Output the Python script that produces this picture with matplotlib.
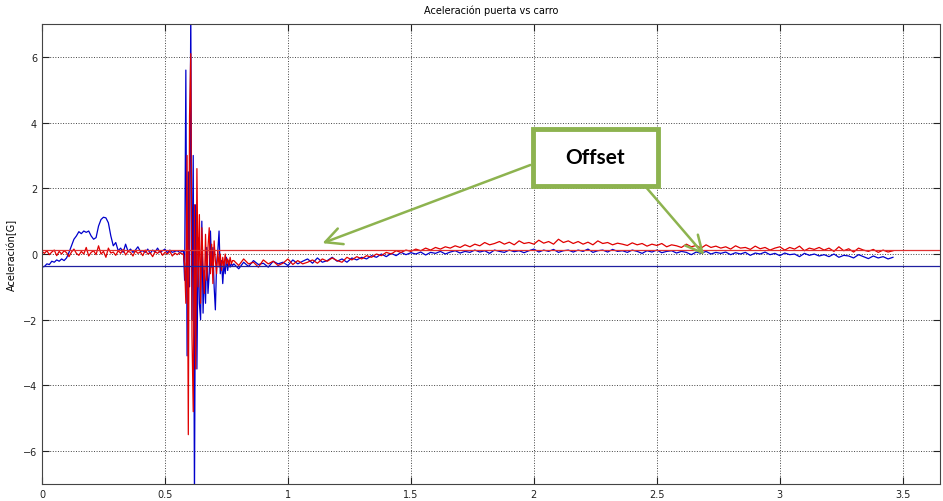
import numpy as np
import matplotlib
matplotlib.use('Agg')
import matplotlib.pyplot as plt
from matplotlib.patches import Rectangle

# puerta (blue) and carro (red) acceleration, in G
blue1 = [-0.40, -0.38, -0.30, -0.32, -0.22, -0.25, -0.18, -0.22, -0.15, -0.20,
         -0.12, 0.05, 0.25, 0.45, 0.55, 0.68, 0.62, 0.70, 0.66, 0.70,
         0.55, 0.45, 0.50, 0.85, 1.05, 1.12, 1.10, 0.95, 0.55, 0.25,
         0.35, 0.10, 0.18, 0.05, 0.30, 0.08, 0.15, 0.05, 0.12, 0.22,
         0.08, 0.10, 0.05, 0.15, 0.02, 0.12, 0.06, 0.18, 0.05, 0.10,
         0.15, 0.04, 0.12, 0.05, 0.08, 0.10, 0.05, 0.08]
red1 = [0.08, 0.02, 0.10, -0.02, 0.06, 0.12, -0.05, 0.08, 0.00, 0.10,
        0.04, -0.08, 0.06, 0.15, 0.02, -0.04, 0.08, 0.00, 0.20, -0.06,
        0.05, 0.10, -0.02, 0.25, 0.00, 0.08, -0.10, 0.18, 0.03, 0.06,
        -0.04, 0.10, 0.02, 0.14, -0.03, 0.08, 0.05, -0.06, 0.10, 0.02,
        0.06, -0.05, 0.12, 0.00, 0.04, -0.08, 0.07, 0.02, 0.10, -0.04,
        0.05, 0.00, 0.08, -0.06, 0.03, -0.02, 0.04, 0.00]

# impact region, finer sampling
blue2 = [0.1, -0.8, 5.6, -3.1, 2.5, -1.0, 7.5, -2.0, 3.0, -7.5,
         1.5, -3.5, 0.5, -1.5, -2.0, 1.0, -1.8, -0.5, -1.5, 0.2,
         -1.2, -0.6, 0.7, -0.4, 0.2, -1.0, -1.7, -0.3, 0.1, 0.7,
         -0.6, -0.2, -0.9, -0.3, -0.6, -0.1, -0.5, -0.2, -0.4, -0.3, -0.35]
red2 = [0.0, -0.3, -1.5, 3.0, -5.5, 4.2, 6.1, -2.5, -4.8, 1.5,
        -3.5, 2.6, -1.0, 1.2, -1.5, 0.8, -0.3, -1.2, 0.6, -0.8,
        0.2, 0.8, -0.6, 0.3, -0.9, 0.4, -0.2, -0.6, 0.1, -0.4,
        0.0, -0.5, -0.1, -0.4, 0.0, -0.3, -0.15, -0.35, -0.1, -0.3, -0.2]

blue3 = [-0.30, -0.45, -0.25, -0.38, -0.20, -0.32, -0.28, -0.40, -0.22, -0.30,
         -0.25, -0.35, -0.18, -0.30, -0.22, -0.15, -0.28, -0.12, -0.25, -0.20,
         -0.10, -0.22, -0.15, -0.25, -0.12, -0.18, -0.10, -0.15, -0.05, -0.10,
         0.00, -0.08, 0.02, -0.05, 0.05, -0.02, 0.04, 0.00, 0.06, -0.03,
         0.05, 0.02, 0.08, 0.00, 0.06, 0.10, 0.03, 0.08, 0.05, 0.12,
         0.06, 0.10, 0.02, 0.12, 0.08, 0.05, 0.12, 0.07, 0.10, 0.04,
         0.10, 0.15, 0.06, 0.12, 0.08, 0.14, 0.05, 0.10, 0.12, 0.06,
         0.12, 0.08, 0.15, 0.05, 0.10, 0.12, 0.06, 0.14, 0.08, 0.10,
         0.05, 0.12, 0.08, 0.02, 0.10, 0.06, 0.12, 0.04, 0.08, 0.10,
         0.03, 0.08, 0.05, -0.02, 0.06, 0.02, 0.08, 0.00, 0.05, 0.02,
         0.06, -0.02, 0.04, 0.00, 0.05, -0.04, 0.03, 0.00, 0.06, -0.02,
         0.02, -0.05, 0.03, -0.02, 0.00, -0.08, 0.02, -0.04, 0.00, -0.06,
         -0.02, -0.08, 0.00, -0.10, -0.04, -0.06, -0.12, -0.02, -0.08, -0.14,
         -0.06, -0.12, -0.08, -0.15, -0.10]
red3 = [-0.20, -0.35, -0.15, -0.30, -0.25, -0.40, -0.18, -0.30, -0.22, -0.35,
        -0.28, -0.15, -0.32, -0.20, -0.30, -0.25, -0.18, -0.28, -0.15, -0.22,
        -0.12, -0.20, -0.25, -0.10, -0.18, -0.08, -0.15, -0.05, -0.10, 0.00,
        -0.05, 0.05, 0.00, 0.10, 0.05, 0.12, 0.08, 0.15, 0.10, 0.18,
        0.12, 0.20, 0.15, 0.22, 0.18, 0.25, 0.20, 0.28, 0.22, 0.30,
        0.25, 0.35, 0.28, 0.32, 0.38, 0.30, 0.36, 0.28, 0.40, 0.32,
        0.35, 0.30, 0.42, 0.33, 0.38, 0.30, 0.45, 0.35, 0.40, 0.32,
        0.38, 0.30, 0.36, 0.28, 0.40, 0.32, 0.35, 0.28, 0.33, 0.30,
        0.26, 0.34, 0.28, 0.32, 0.24, 0.30, 0.26, 0.32, 0.22, 0.28,
        0.25, 0.20, 0.30, 0.22, 0.26, 0.18, 0.28, 0.20, 0.24, 0.18,
        0.22, 0.15, 0.25, 0.18, 0.20, 0.14, 0.24, 0.16, 0.20, 0.12,
        0.18, 0.22, 0.12, 0.20, 0.15, 0.24, 0.10, 0.18, 0.14, 0.20,
        0.12, 0.18, 0.08, 0.22, 0.10, 0.16, 0.06, 0.18, 0.12, 0.08,
        0.14, 0.05, 0.12, 0.06, 0.10]

offset_red = 0.13
offset_blue = -0.38

t1 = 0.01 * np.arange(len(blue1))
t2 = 0.575 + 0.005 * np.arange(len(blue2))
t3 = 0.78 + 0.02 * np.arange(len(blue3))
t = np.concatenate([t1, t2, t3])
blue = np.concatenate([blue1, blue2, blue3])
red = np.concatenate([red1, red2, red3])

fig = plt.figure(figsize=(9.43, 5.02), dpi=100)
ax = fig.add_axes([0.0445, 0.034, 0.952, 0.916])

ax.plot(t, blue, color='#0000cc', lw=0.9)
ax.plot(t, red, color='#e00000', lw=0.9)
ax.axhline(offset_red, color='#e03030', lw=0.9)
ax.axhline(offset_blue, color='#2020a0', lw=0.9)

ax.set_xlim(0, 3.65)
ax.set_ylim(-7, 7)
ax.set_xticks([0, 0.5, 1, 1.5, 2, 2.5, 3, 3.5])
ax.set_xticklabels(['0', '0.5', '1', '1.5', '2', '2.5', '3', '3.5'])
ax.set_yticks([-6, -4, -2, 0, 2, 4, 6])
ax.grid(True, ls=':', color='#444444', lw=0.7)
ax.tick_params(direction='in', top=True, right=True, labelsize=7, length=5,
               colors='#222222')
for s in ax.spines.values():
    s.set_color('#444444')

ax.set_title('Aceleración puerta vs carro', fontsize=7, pad=8)
ax.set_ylabel('Aceleración[G]', fontsize=7, labelpad=4)

green = '#8db34f'
fig.patches.append(Rectangle((0.565, 0.6275), 0.1326, 0.1135, transform=fig.transFigure,
                             fill=True, facecolor='white', edgecolor=green, lw=3.5, zorder=5))
fig.text(0.6313, 0.6843, 'Offset', fontsize=15, fontweight='bold', family='Lato',
         ha='center', va='center', zorder=6)

arrow = dict(arrowstyle='->, head_length=1.2, head_width=0.6', color=green, lw=1.8)
ax.annotate('', xy=(1.13, 0.3), xycoords='data', xytext=(533, 337),
            textcoords='figure pixels', arrowprops=arrow)
ax.annotate('', xy=(2.70, -0.09), xycoords='data', xytext=(645, 315),
            textcoords='figure pixels', arrowprops=arrow)

fig.savefig('out.png', dpi=100)
